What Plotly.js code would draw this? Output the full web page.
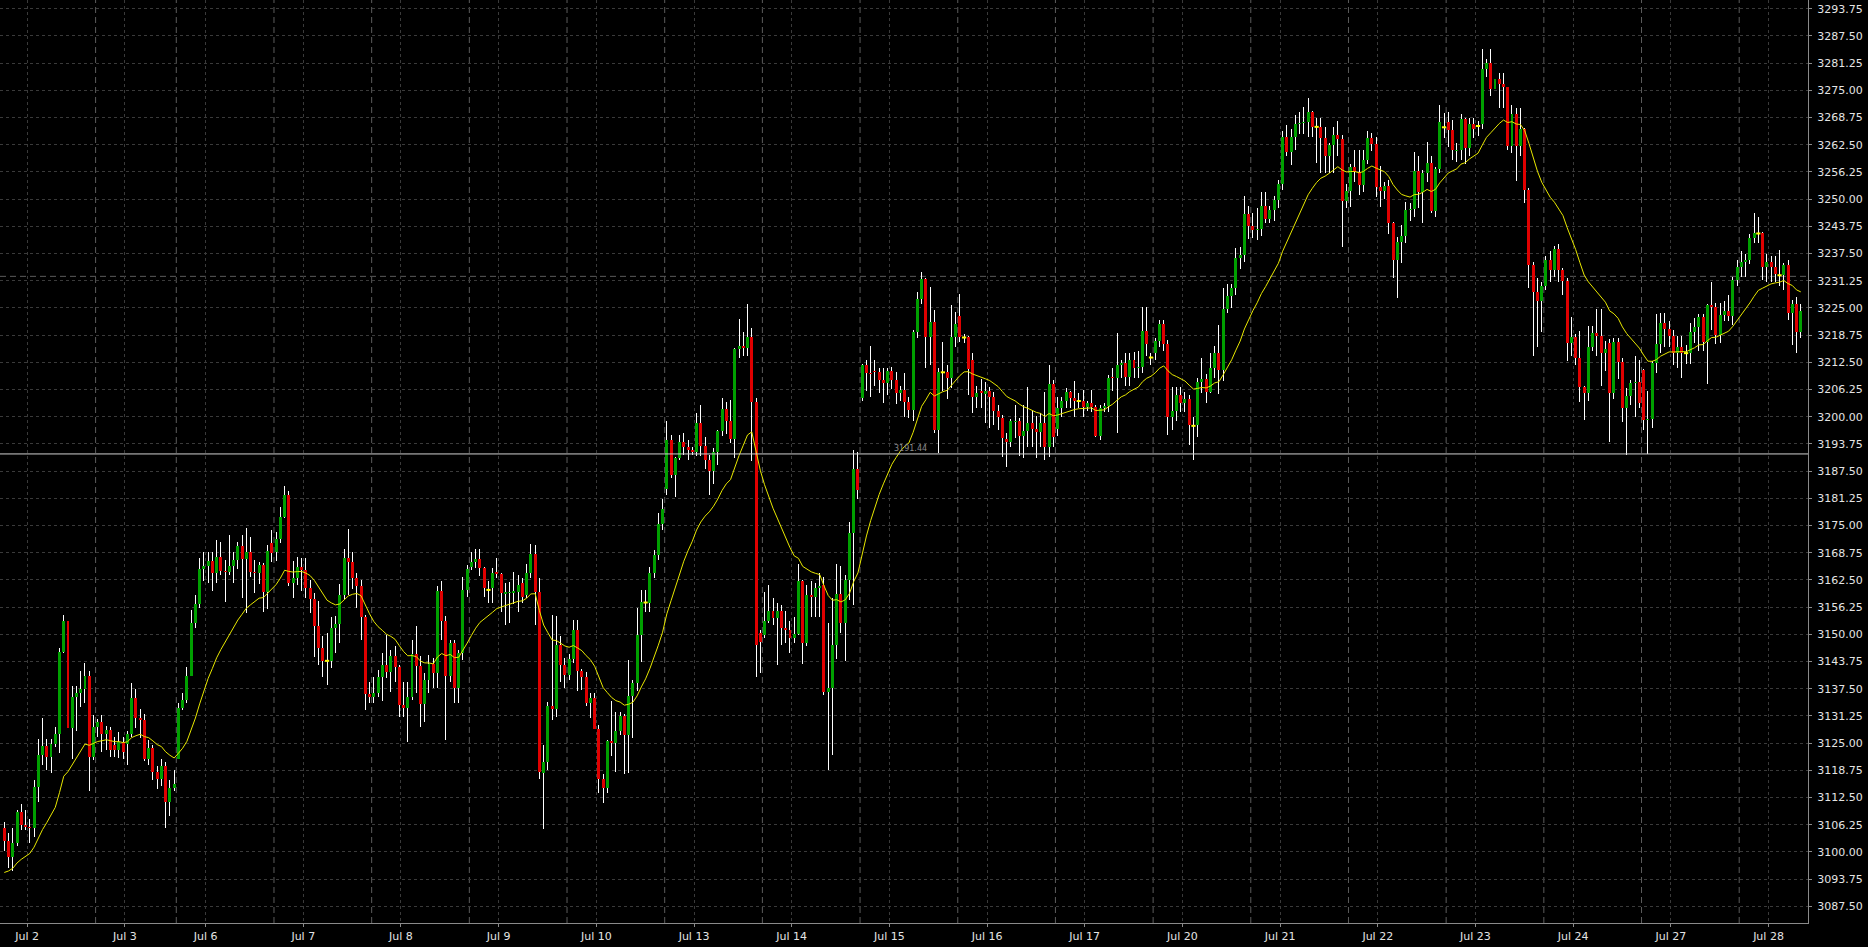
<!DOCTYPE html>
<html><head><meta charset="utf-8">
<script src="https://cdn.plot.ly/plotly-3.0.1.min.js"></script>
<style>html,body{margin:0;padding:0;background:#000;overflow:hidden}#chart{width:1868px;height:947px}
#chart .barlayer path{shape-rendering:crispEdges !important}</style>
</head><body><div id="chart"></div>
<script>
// ---- day structure (hourly bars per trading day) ----
const dayNames=['Jul 2','Jul 3','Jul 6','Jul 7','Jul 8','Jul 9','Jul 10','Jul 13','Jul 14','Jul 15','Jul 16','Jul 17','Jul 20','Jul 21','Jul 22','Jul 23','Jul 24','Jul 27','Jul 28'];
const dayBars=[22,19,23,23,23,23,23,23,23,23,23,23,23,23,23,23,23,23,15];
const firstDayHiddenBars=1;

// ---- OHLC values ----
const opens=[
3105.4,3102.6,3098.9,3102.0,3109.2,3106.2,3105.8,3105.6,3114.8,3122.3,3124.3,3121.9,3124.8,3127.2,3146.0,3153.1,3128.4,3135.7,3136.4,3137.4,3140.4,3121.7,
3128.8,3129.8,3127.2,3128.0,3124.6,3123.3,3125.3,3124.8,3127.2,3135.4,3130.7,3130.2,3121.4,3123.9,3118.4,3116.7,3119.8,3111.5,3114.7,
3121.4,3133.0,3134.9,3140.4,3152.5,3157.0,3164.9,3165.7,3166.8,3164.0,3167.7,3164.6,3164.3,3165.7,3167.1,3170.3,3167.3,3169.0,3164.4,3164.2,3165.9,3159.8,3171.0,
3169.0,3171.8,3176.9,3182.0,3161.9,3162.9,3165.4,3164.7,3160.6,3158.1,3151.9,3146.9,3143.9,3143.9,3151.4,3152.4,3159.0,3167.5,3166.7,3162.9,3161.1,3153.9,3136.3,
3135.7,3136.4,3140.3,3142.9,3141.4,3145.0,3142.4,3133.8,3133.1,3135.7,3145.5,3142.7,3134.0,3139.5,3143.2,3141.2,3159.9,3153.1,3140.4,3148.1,3137.6,3145.6,3160.2,
3165.5,3166.5,3167.2,3165.3,3160.2,3160.7,3164.3,3163.9,3159.3,3159.4,3159.6,3159.8,3161.7,3159.0,3164.2,3168.5,3159.8,3118.2,3120.7,3133.5,3132.8,3147.5,3142.9,
3140.6,3144.3,3151.0,3141.6,3140.3,3134.3,3135.4,3128.3,3116.8,3114.6,3125.5,3125.0,3127.8,3131.3,3126.9,3135.9,3138.7,3149.8,3157.3,3157.3,3164.2,3168.2,3175.3,
3183.5,3194.6,3186.6,3190.6,3194.1,3193.1,3192.3,3191.8,3198.5,3193.3,3190.0,3187.5,3191.8,3196.6,3201.8,3199.0,3194.9,3215.6,3216.2,3215.9,3218.4,3203.3,3150.2,
3149.8,3153.0,3155.3,3153.7,3155.3,3151.5,3151.0,3149.2,3150.0,3162.2,3147.9,3159.0,3158.6,3160.6,3161.3,3136.7,3137.6,3147.5,3159.2,3152.5,3162.5,3173.2,3188.0,
3204.2,3211.9,3210.0,3210.5,3210.2,3208.4,3207.7,3210.5,3208.4,3205.5,3206.1,3203.4,3201.5,3219.5,3227.0,3231.6,3218.2,3221.7,3196.9,3210.2,3210.2,3208.8,3218.2,
3223.2,3218.2,3218.2,3213.0,3204.6,3205.9,3205.2,3205.9,3204.6,3201.3,3199.6,3194.9,3194.1,3198.7,3199.1,3195.6,3196.7,3198.5,3197.2,3196.4,3198.5,3193.1,3207.4,
3197.2,3201.9,3203.5,3205.6,3204.2,3203.6,3203.6,3202.3,3203.1,3202.3,3195.6,3202.1,3202.5,3209.2,3208.8,3211.9,3212.3,3209.2,3213.0,3211.3,3211.5,3219.7,3213.6,
3214.6,3217.4,3221.2,3216.8,3200.0,3201.3,3205.0,3203.1,3204.0,3197.9,3198.1,3208.0,3208.6,3205.7,3211.1,3214.6,3210.7,3224.7,3227.7,3229.5,3236.4,3237.2,3246.6,
3243.8,3243.0,3243.2,3248.4,3245.4,3247.5,3249.9,3253.5,3264.3,3260.9,3264.2,3267.3,3267.6,3267.8,3270.1,3266.6,3266.6,3264.0,3259.8,3262.4,3264.7,3263.7,3249.6,
3251.9,3257.3,3256.3,3253.2,3259.1,3264.0,3262.7,3252.7,3251.9,3253.0,3244.6,3235.9,3240.2,3241.5,3247.5,3247.8,3256.5,3251.7,3256.1,3258.4,3247.3,3257.0,3266.5,
3267.8,3265.9,3261.0,3261.3,3268.3,3261.7,3267.3,3266.8,3267.3,3280.0,3281.3,3275.2,3277.5,3276.4,3275.8,3262.2,3269.6,3262.2,3266.0,3252.2,3234.9,3228.7,3226.6,
3230.0,3236.0,3233.7,3238.5,3233.7,3231.2,3216.9,3218.2,3213.4,3206.9,3205.4,3216.1,3219.3,3218.6,3214.7,3217.0,3205.5,3217.2,3212.6,3201.9,3204.7,3207.7,3208.0,
3210.7,3199.2,3199.4,3212.3,3216.7,3221.6,3220.1,3218.6,3214.7,3216.0,3214.6,3214.6,3219.5,3220.5,3222.8,3217.2,3225.7,3225.3,3218.8,3223.4,3224.4,3223.1,3231.4,
3234.5,3235.6,3236.0,3241.0,3242.1,3242.1,3234.3,3235.6,3234.4,3232.5,3232.5,3234.9,3223.9,3226.0,3219.5];
const highs=[
3106.9,3104.3,3105.4,3109.6,3111.0,3109.6,3107.6,3116.5,3125.9,3130.7,3125.9,3125.9,3128.8,3146.9,3154.4,3156.5,3138.1,3138.1,3141.6,3143.3,3141.6,3131.5,
3130.5,3131.5,3128.9,3128.8,3126.5,3127.6,3126.5,3127.8,3138.7,3137.4,3132.8,3131.8,3125.7,3124.6,3119.8,3121.3,3120.6,3116.5,3118.8,
3134.1,3136.6,3142.6,3155.6,3159.0,3167.5,3169.0,3169.0,3169.0,3171.7,3171.2,3167.1,3172.8,3169.0,3171.3,3172.8,3174.4,3172.4,3167.1,3166.7,3166.3,3170.5,3174.0,
3173.6,3179.3,3184.1,3183.0,3166.9,3167.7,3167.5,3167.5,3162.5,3159.4,3157.7,3149.5,3150.2,3153.9,3154.1,3161.6,3169.5,3174.1,3169.0,3164.0,3162.5,3154.4,3139.1,
3140.3,3141.8,3145.8,3149.8,3146.4,3147.2,3142.9,3139.1,3139.1,3148.7,3151.9,3144.9,3141.2,3145.2,3144.5,3161.1,3162.3,3154.1,3148.7,3148.7,3146.4,3163.2,3165.9,
3169.0,3169.5,3169.5,3165.5,3162.3,3165.2,3167.5,3164.0,3161.7,3162.1,3164.4,3163.6,3162.9,3166.2,3170.7,3170.5,3162.9,3124.6,3134.5,3154.4,3154.1,3149.5,3144.5,
3145.5,3153.3,3153.3,3142.0,3141.4,3136.4,3136.4,3129.2,3118.0,3125.7,3134.7,3132.2,3132.2,3131.8,3144.1,3139.5,3156.0,3160.2,3160.2,3165.5,3169.4,3177.8,3181.2,
3199.0,3195.8,3190.8,3195.8,3196.2,3194.6,3193.1,3200.8,3202.7,3195.4,3191.2,3192.7,3197.0,3204.2,3203.4,3203.8,3215.9,3222.4,3219.5,3226.0,3220.3,3204.2,3151.0,
3159.8,3161.3,3158.3,3157.1,3156.7,3155.3,3153.0,3154.0,3166.1,3162.5,3161.3,3162.2,3161.9,3164.0,3163.2,3152.5,3158.4,3166.1,3165.8,3163.6,3175.9,3192.3,3191.9,
3212.2,3213.0,3216.2,3213.0,3211.1,3211.1,3211.1,3211.5,3210.2,3207.0,3210.0,3204.6,3219.9,3228.7,3233.3,3231.9,3229.9,3224.5,3211.3,3217.2,3211.9,3225.7,3224.1,
3228.3,3219.0,3218.6,3214.6,3207.1,3208.7,3208.0,3206.9,3205.7,3202.7,3200.4,3196.2,3199.5,3202.8,3199.6,3202.7,3206.9,3201.3,3200.2,3200.8,3205.7,3211.9,3208.4,
3204.6,3204.6,3206.7,3205.8,3208.2,3205.4,3206.1,3203.5,3206.1,3202.7,3202.7,3203.1,3209.6,3211.1,3219.2,3213.0,3214.6,3214.6,3214.8,3215.1,3225.3,3225.1,3214.6,
3218.0,3222.2,3222.2,3217.6,3206.9,3206.9,3206.9,3205.7,3205.0,3200.0,3208.8,3213.4,3209.9,3214.6,3216.2,3221.1,3229.5,3230.6,3230.6,3238.7,3239.1,3250.6,3248.4,
3246.7,3248.0,3251.7,3251.7,3248.4,3250.6,3254.5,3265.7,3267.0,3266.0,3269.3,3270.1,3271.2,3273.2,3270.3,3268.6,3268.6,3266.5,3263.0,3266.5,3267.9,3264.7,3253.5,
3258.1,3261.3,3261.3,3261.3,3265.7,3265.3,3264.3,3257.5,3254.0,3254.5,3244.8,3241.4,3244.1,3249.4,3249.0,3260.9,3259.9,3256.8,3263.2,3259.9,3257.4,3271.6,3269.9,
3270.1,3268.2,3263.0,3269.5,3268.6,3268.6,3268.6,3268.0,3284.4,3282.3,3284.4,3279.7,3278.9,3278.9,3275.8,3271.6,3270.9,3270.9,3266.3,3252.5,3235.6,3231.8,3231.0,
3236.9,3238.0,3239.2,3239.7,3234.2,3231.8,3223.0,3219.0,3219.8,3207.0,3220.8,3220.8,3224.7,3224.7,3217.3,3217.8,3218.0,3218.0,3213.6,3206.5,3208.4,3214.0,3213.0,
3211.0,3206.0,3212.8,3223.6,3223.8,3223.8,3222.0,3219.9,3218.6,3218.6,3216.5,3221.5,3222.6,3223.6,3223.5,3226.0,3231.0,3226.1,3226.1,3226.5,3228.0,3232.2,3235.9,
3238.0,3237.5,3242.0,3246.7,3245.8,3242.5,3237.3,3236.9,3236.9,3238.2,3235.4,3235.9,3226.9,3227.4,3226.0];
const lows=[
3100.3,3096.2,3095.5,3101.3,3105.0,3105.0,3102.1,3103.5,3111.5,3120.0,3118.8,3118.2,3124.2,3122.8,3145.6,3127.2,3121.3,3127.8,3133.2,3134.1,3114.1,3121.1,
3126.5,3123.0,3123.3,3121.9,3121.9,3121.5,3121.3,3120.0,3126.5,3128.4,3126.1,3121.0,3120.0,3116.5,3114.4,3115.1,3105.6,3108.2,3114.0,
3121.3,3132.5,3134.1,3140.4,3151.4,3156.0,3162.3,3161.9,3160.0,3161.9,3163.6,3157.5,3163.6,3161.7,3165.0,3158.3,3154.8,3163.2,3159.4,3161.6,3155.2,3155.9,3166.7,
3166.9,3171.0,3176.7,3161.0,3158.3,3161.3,3160.0,3158.3,3155.0,3144.7,3142.9,3140.1,3138.3,3142.2,3145.6,3148.0,3158.0,3159.0,3160.5,3156.0,3148.7,3132.6,3134.3,
3134.3,3135.7,3134.7,3139.9,3136.8,3139.0,3131.1,3131.1,3125.3,3135.0,3136.4,3128.8,3129.9,3136.4,3137.6,3137.6,3148.8,3125.7,3139.1,3134.3,3134.3,3144.1,3158.6,
3164.8,3165.2,3163.3,3158.6,3157.3,3157.1,3162.9,3155.2,3152.1,3152.7,3157.0,3155.2,3157.1,3158.3,3163.0,3152.1,3116.7,3105.2,3118.8,3130.3,3131.1,3139.0,3137.6,
3139.5,3143.5,3137.0,3137.2,3133.6,3130.7,3128.2,3113.5,3111.3,3113.6,3122.0,3118.4,3126.9,3118.0,3118.2,3126.1,3137.0,3143.7,3155.2,3155.2,3163.0,3167.0,3174.0,
3182.0,3186.0,3181.6,3190.0,3191.2,3190.0,3191.2,3191.0,3191.0,3188.0,3182.0,3184.5,3188.9,3195.6,3196.0,3193.9,3190.5,3213.4,3214.0,3214.0,3189.8,3140.3,3141.0,
3149.1,3152.5,3152.1,3142.9,3147.5,3147.9,3145.8,3148.0,3149.8,3143.1,3147.2,3154.0,3154.0,3154.0,3136.0,3118.8,3122.2,3144.3,3150.4,3143.9,3157.9,3156.7,3181.2,
3203.6,3206.0,3204.6,3207.0,3205.4,3203.1,3205.0,3206.4,3203.0,3203.5,3200.0,3199.6,3199.0,3218.0,3226.0,3211.3,3211.9,3196.2,3191.6,3206.0,3204.0,3206.7,3216.0,
3217.2,3216.9,3205.0,3200.8,3202.0,3202.0,3198.5,3197.3,3198.0,3197.0,3190.8,3188.5,3193.0,3195.0,3191.0,3190.4,3193.0,3193.0,3190.6,3193.0,3190.0,3190.8,3193.0,
3195.5,3200.0,3202.0,3202.0,3200.0,3201.9,3200.0,3201.2,3201.0,3195.4,3194.6,3201.0,3201.0,3206.0,3196.2,3209.0,3207.0,3207.0,3209.0,3209.0,3210.0,3214.0,3211.9,
3213.0,3216.0,3215.0,3195.8,3197.0,3199.0,3201.0,3201.0,3193.5,3190.0,3195.4,3205.4,3203.2,3205.4,3208.8,3205.2,3208.3,3223.8,3225.0,3228.0,3233.9,3235.6,3240.8,
3241.0,3240.7,3241.5,3244.4,3244.6,3245.0,3248.0,3252.0,3259.8,3257.8,3261.3,3265.0,3265.0,3264.3,3264.3,3258.2,3256.1,3256.1,3256.0,3256.1,3260.0,3239.1,3247.9,
3248.3,3254.0,3251.0,3251.7,3258.0,3261.0,3250.4,3248.1,3250.0,3242.0,3231.8,3227.2,3235.4,3240.0,3245.0,3246.0,3248.0,3244.4,3254.0,3246.9,3246.0,3255.9,3264.0,
3262.0,3259.0,3258.5,3259.0,3258.0,3260.0,3264.0,3264.5,3266.0,3278.0,3273.7,3274.5,3270.9,3271.0,3261.3,3260.5,3254.2,3260.0,3249.0,3229.5,3214.0,3216.1,3219.5,
3229.0,3231.0,3232.0,3231.0,3228.0,3212.8,3214.0,3211.9,3203.4,3199.2,3203.6,3215.0,3214.0,3207.0,3210.5,3194.2,3204.0,3208.6,3198.8,3191.3,3202.6,3200.0,3202.0,
3197.0,3191.5,3197.4,3210.0,3214.6,3216.0,3216.0,3211.9,3211.2,3209.0,3212.0,3212.0,3217.0,3215.0,3215.0,3207.5,3220.0,3216.6,3217.0,3222.0,3222.0,3221.0,3230.0,
3232.0,3232.0,3235.0,3240.0,3240.0,3231.4,3231.0,3231.0,3231.0,3230.0,3229.0,3222.2,3216.4,3214.7,3218.0];
const closes=[
3102.6,3098.9,3102.0,3109.2,3106.2,3105.8,3105.6,3114.8,3122.3,3124.3,3121.9,3124.8,3127.2,3146.0,3153.1,3128.4,3135.7,3136.4,3137.4,3140.4,3121.7,3128.8,
3129.8,3127.2,3128.0,3123.4,3123.3,3125.3,3123.0,3127.2,3135.4,3130.7,3130.2,3121.4,3123.9,3118.4,3116.7,3119.8,3111.5,3114.7,3115.7,
3133.0,3134.9,3140.4,3152.5,3157.0,3164.9,3165.7,3166.8,3164.0,3167.7,3164.6,3164.3,3165.7,3167.1,3170.3,3167.3,3169.0,3164.4,3164.2,3165.9,3159.8,3169.1,3168.6,
3171.8,3176.9,3182.0,3161.9,3162.9,3165.4,3164.7,3160.6,3158.1,3151.9,3146.9,3143.9,3143.9,3151.4,3152.4,3159.0,3167.5,3166.7,3162.9,3161.1,3153.9,3136.3,3135.7,
3136.4,3140.3,3142.9,3141.4,3145.0,3142.4,3133.8,3133.1,3135.7,3145.5,3142.7,3134.0,3139.5,3143.2,3141.2,3159.9,3153.1,3140.4,3148.1,3137.6,3145.6,3160.2,3164.9,
3166.6,3167.2,3165.3,3160.7,3160.2,3164.2,3163.9,3159.4,3159.8,3159.8,3160.0,3161.3,3158.6,3164.2,3168.5,3159.8,3118.4,3120.7,3133.5,3132.8,3147.5,3142.9,3140.6,
3144.3,3151.0,3141.6,3140.3,3134.3,3135.4,3128.3,3116.8,3114.6,3125.5,3125.0,3127.8,3131.3,3126.9,3135.9,3138.7,3149.8,3157.5,3157.3,3164.2,3168.2,3175.3,3178.9,
3194.6,3186.6,3190.6,3194.1,3193.1,3192.3,3191.8,3198.5,3193.3,3190.0,3187.5,3191.8,3196.6,3201.8,3199.0,3194.9,3215.6,3216.2,3215.9,3218.4,3203.3,3147.5,3148.3,
3153.0,3155.3,3153.7,3155.3,3151.5,3151.0,3149.2,3150.0,3162.2,3147.9,3159.0,3158.6,3160.6,3161.1,3136.7,3137.6,3147.5,3159.2,3152.5,3162.5,3173.2,3188.0,3183.2,
3211.9,3210.0,3209.7,3210.2,3208.4,3207.7,3210.5,3208.4,3205.5,3206.1,3203.4,3201.5,3219.5,3227.0,3231.6,3218.2,3221.7,3196.9,3210.2,3210.2,3208.8,3218.2,3221.2,
3218.2,3218.2,3211.0,3204.6,3205.4,3205.4,3205.9,3204.6,3201.3,3200.0,3195.0,3194.1,3198.9,3199.1,3195.6,3196.7,3198.5,3197.2,3196.4,3198.5,3193.1,3207.4,3195.4,
3201.9,3203.5,3205.6,3204.2,3203.6,3203.6,3202.3,3203.1,3202.3,3195.6,3202.1,3202.5,3209.0,3208.8,3211.9,3212.3,3209.2,3213.0,3211.3,3211.5,3219.7,3216.6,3213.6,
3217.4,3221.2,3216.8,3200.0,3201.3,3205.0,3203.1,3204.0,3198.1,3197.9,3208.0,3208.6,3205.7,3211.1,3214.6,3210.7,3224.7,3227.7,3229.5,3236.4,3237.2,3246.6,3243.8,
3243.0,3243.2,3248.4,3245.4,3247.5,3249.9,3253.5,3264.3,3260.9,3264.2,3267.3,3267.6,3267.8,3270.1,3266.6,3266.6,3264.0,3259.8,3262.4,3264.7,3263.7,3249.6,3251.9,
3257.3,3256.3,3253.2,3259.1,3264.0,3262.7,3252.7,3251.9,3253.0,3244.6,3235.9,3240.2,3241.5,3247.5,3247.8,3256.5,3251.7,3256.1,3258.4,3247.3,3257.0,3267.8,3266.5,
3265.9,3261.3,3261.3,3268.3,3261.7,3267.3,3266.0,3266.8,3280.0,3281.3,3275.2,3277.5,3276.4,3275.8,3262.2,3269.6,3262.2,3266.0,3252.2,3234.9,3228.7,3226.6,3230.0,
3236.0,3233.7,3238.5,3233.7,3231.2,3216.9,3218.2,3213.4,3206.9,3205.4,3216.1,3219.3,3218.6,3214.7,3215.5,3205.5,3217.2,3212.6,3201.9,3204.7,3207.7,3208.0,3203.2,
3199.2,3199.4,3212.3,3216.7,3221.6,3220.1,3218.6,3214.7,3216.0,3214.7,3214.6,3219.5,3220.5,3222.8,3217.2,3225.7,3225.3,3218.8,3223.4,3224.4,3223.1,3231.4,3234.5,
3235.6,3236.0,3241.0,3242.1,3242.1,3234.3,3235.6,3234.4,3232.9,3232.5,3234.9,3223.9,3226.0,3219.5,3224.4];

// moving average (EMA 20 of closes) value entering the visible window
const maPeriod=20;
const maPrev=3094.5;
// horizontal price levels
const levelLine=3191.44;
const levelDashed=3232.25;
// y-axis ticks
const yTick0=3087.5, yStep=6.25;

// ---------------- build ----------------
const N=closes.length;
const xs=[...Array(N).keys()];
const hi=xs.map(i=>Math.max(highs[i],opens[i],closes[i]));
const lo=xs.map(i=>Math.min(lows[i],opens[i],closes[i]));
const bodyBase=xs.map(i=>Math.min(opens[i],closes[i]));
const bodyH=xs.map(i=>Math.max(Math.abs(closes[i]-opens[i]),0.2));
const bodyCol=xs.map(i=>closes[i]>opens[i]?'#00a000':(closes[i]<opens[i]?'#e00000':'rgba(0,0,0,0)'));
const dojiX=xs.filter(i=>opens[i]===closes[i]);
const dojiY=dojiX.map(i=>closes[i]);
const alpha=2/(maPeriod+1);
const ma=[];let m=maPrev;
for(let i=0;i<N;i++){m=m+alpha*(closes[i]-m);ma.push(m);}

const dayStart=[];let acc=0;
for(let d=0;d<dayBars.length;d++){dayStart.push(acc);acc+=dayBars[d];}
const labelPos=6.4; // label sits ~6.4 bars after the start of each day
const tickvals=dayStart.map((s,d)=>s+labelPos-(d===0?firstDayHiddenBars:0));
const shapes=[];
for(let d=1;d<dayStart.length;d++){
  shapes.push({type:'line',xref:'x',yref:'paper',x0:dayStart[d]-0.5,x1:dayStart[d]-0.5,y0:0,y1:1,
    line:{color:'#5c5c5c',width:1,dash:'6px,4px'},layer:'below'});
}
shapes.push({type:'line',xref:'paper',yref:'y',x0:0,x1:1,y0:levelDashed,y1:levelDashed,line:{color:'#5c5c5c',width:1,dash:'6px,4px'},layer:'below'});
shapes.push({type:'line',xref:'paper',yref:'y',x0:0,x1:1,y0:levelLine,y1:levelLine,line:{color:'#d0d0d0',width:1},layer:'above'});

const traces=[
 {type:'bar',x:xs,base:lo,y:xs.map(i=>hi[i]-lo[i]),width:0.235,marker:{color:'#ffffff',line:{width:0}},hoverinfo:'skip'},
 {type:'bar',x:xs,base:bodyBase,y:bodyH,width:0.7,marker:{color:bodyCol,line:{width:0}},hoverinfo:'skip'},
 {type:'scatter',mode:'lines',x:xs,y:ma,line:{color:'#e8e800',width:1},hoverinfo:'skip'},
 {type:'scatter',mode:'markers',x:dojiX,y:dojiY,marker:{symbol:'line-ew',size:3,color:'#ffff00',line:{color:'#ffff00',width:2}},hoverinfo:'skip'}
];

const font={family:'DejaVu Sans, sans-serif',size:11,color:'#e4e4e4'};
const layout={
 width:1868,height:947,margin:{l:0,r:60,t:0,b:24,pad:0},
 paper_bgcolor:'#000000',plot_bgcolor:'#000000',showlegend:false,barmode:'overlay',hovermode:false,
 font:font,
 xaxis:{range:[-1.01,424.7],tickmode:'array',tickvals:tickvals,ticktext:dayNames,showgrid:true,gridcolor:'#3a3a3a',griddash:'dot',gridwidth:1,
   showline:true,linecolor:'#8a8a8a',linewidth:1,ticks:'outside',ticklen:3,tickcolor:'#8a8a8a',zeroline:false,tickfont:font,fixedrange:true},
 yaxis:{side:'right',range:[3083.66,3295.75],tickmode:'linear',tick0:yTick0,dtick:yStep,tickformat:'.2f',showgrid:true,gridcolor:'#3a3a3a',griddash:'dot',gridwidth:1,
   showline:true,mirror:true,linecolor:'#8a8a8a',linewidth:1,ticks:'outside',ticklen:3,tickcolor:'#8a8a8a',zeroline:false,tickfont:font,ticklabelstandoff:3,fixedrange:true},
 shapes:shapes,
 annotations:[{x:209,y:levelLine,xref:'x',yref:'y',text:levelLine.toFixed(2),showarrow:false,xanchor:'left',yanchor:'bottom',yshift:-1,
   font:{family:'DejaVu Sans, sans-serif',size:8,color:'#8c8c8c'}}]
};
Plotly.newPlot('chart',traces,layout,{displayModeBar:false,staticPlot:true});
</script></body></html>
